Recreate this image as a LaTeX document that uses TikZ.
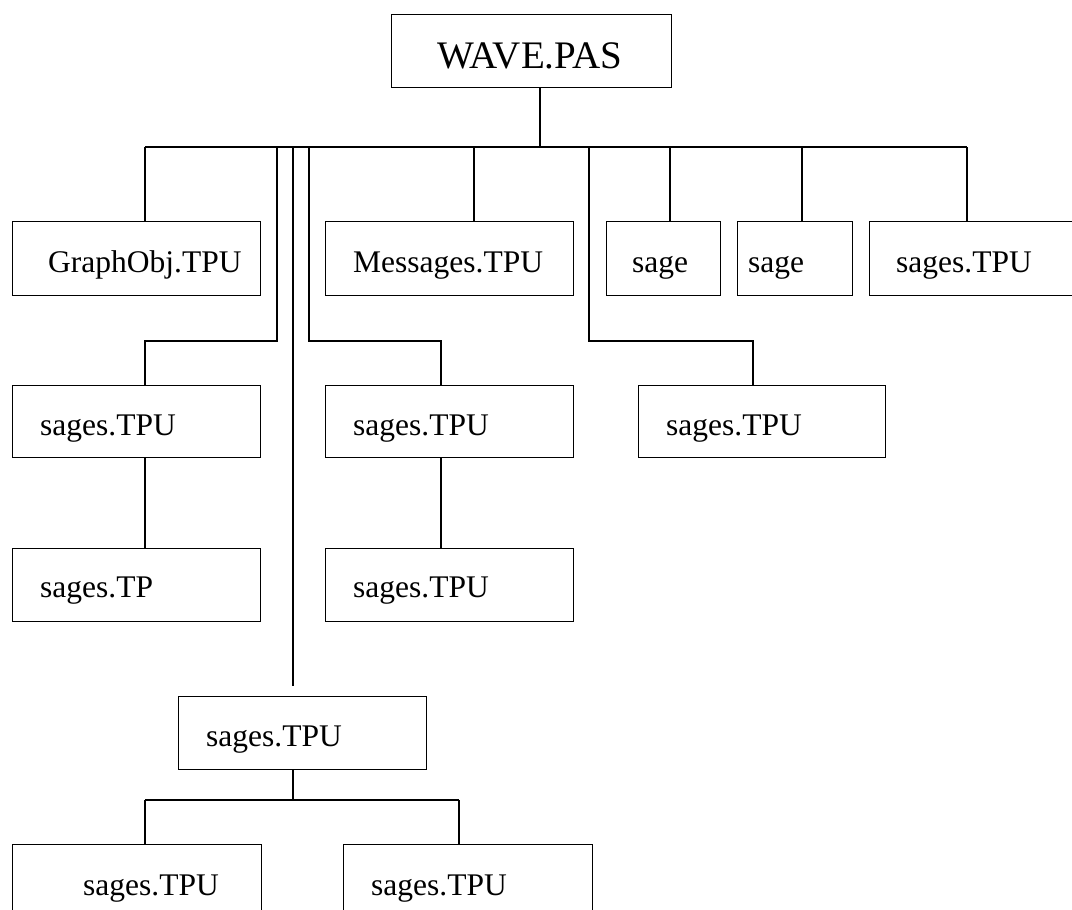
\documentclass[tikz,border=0pt]{standalone}
\usepackage{fontspec}
\setmainfont{Liberation Serif}
\begin{document}
\begin{tikzpicture}[x=1pt,y=-1pt,
  boxst/.style={draw, line width=1.4pt, inner sep=0pt, anchor=north west},
  lbl/.style={anchor=base west, inner sep=0pt, font=\fontsize{31.5}{36}\selectfont},
  conn/.style={line width=1.3pt}]
\useasboundingbox (0,0) rectangle (1072,910);
% boxes: name, x1,y1, width,height, text x, baseline, text
\newcommand\mkbox[8]{%
  \node[boxst, minimum width=#4pt, minimum height=#5pt] (#1) at (#2,#3) {};
  \node[lbl] (#1-t) at (#6,#7) {#8};}
\node[boxst, minimum width=280pt, minimum height=73pt] (root) at (391,14) {};
\node[lbl, font=\fontsize{39}{44}\selectfont] (root-t) at (437,68) {WAVE.PAS};
% row 1
\mkbox{g}{12}{221}{248}{74}{48}{272}{GraphObj.TPU}
\mkbox{m}{325}{221}{248}{74}{353}{272}{Messages.TPU}
\mkbox{s1}{606}{221}{114}{74}{632}{272}{sage}
\mkbox{s2}{737}{221}{115}{74}{748}{272}{sage}
\mkbox{s3}{869}{221}{220}{74}{896}{272}{sages.TPU}
% row 2
\mkbox{a2}{12}{385}{248}{72}{40}{435}{sages.TPU}
\mkbox{b2}{325}{385}{248}{72}{353}{435}{sages.TPU}
\mkbox{c2}{638}{385}{247}{72}{666}{435}{sages.TPU}
% row 3
\mkbox{a3}{12}{548}{248}{73}{40}{597}{sages.TP}
\mkbox{b3}{325}{548}{248}{73}{353}{597}{sages.TPU}
% row 4
\mkbox{d4}{178}{696}{248}{73}{206}{746}{sages.TPU}
% row 5
\mkbox{a5}{12}{844}{249}{80}{83}{895}{sages.TPU}
\mkbox{b5}{343}{844}{249}{80}{371}{895}{sages.TPU}
% coordinates
\coordinate (rv) at (540,147);
\coordinate (busL) at (145,147);
\coordinate (busR) at (967,147);
\coordinate (x277) at (277,147);
\coordinate (x293) at (293,147);
\coordinate (x309) at (309,147);
\coordinate (x474) at (474,147);
\coordinate (x589) at (589,147);
\coordinate (x670) at (670,147);
\coordinate (x802) at (802,147);
\coordinate (e293) at (293,686);
\coordinate (j1) at (277,341);
\coordinate (j2) at (309,341);
\coordinate (j3) at (589,341);
\coordinate (k1) at (145,341);
\coordinate (k2) at (441,341);
\coordinate (k3) at (753,341);
\coordinate (d4b) at (293,800);
\coordinate (l5) at (145,800);
\coordinate (r5) at (459,800);
% connectors
\draw[conn] (rv |- root.south) -- (rv);
\draw[conn] (busL) -- (busR);
\draw[conn] (busL) -- (busL |- g.north);
\draw[conn] (x474) -- (x474 |- m.north);
\draw[conn] (x670) -- (x670 |- s1.north);
\draw[conn] (x802) -- (x802 |- s2.north);
\draw[conn] (busR) -- (busR |- s3.north);
\draw[conn] (x277) -- (j1) -- (k1) -- (k1 |- a2.north);
\draw[conn] (x309) -- (j2) -- (k2) -- (k2 |- b2.north);
\draw[conn] (x589) -- (j3) -- (k3) -- (k3 |- c2.north);
\draw[conn] (x293) -- (e293);
\draw[conn] (k1 |- a2.south) -- (k1 |- a3.north);
\draw[conn] (k2 |- b2.south) -- (k2 |- b3.north);
\draw[conn] (d4b |- d4.south) -- (d4b);
\draw[conn] (l5) -- (r5);
\draw[conn] (l5) -- (l5 |- a5.north);
\draw[conn] (r5) -- (r5 |- b5.north);
\end{tikzpicture}
\end{document}
